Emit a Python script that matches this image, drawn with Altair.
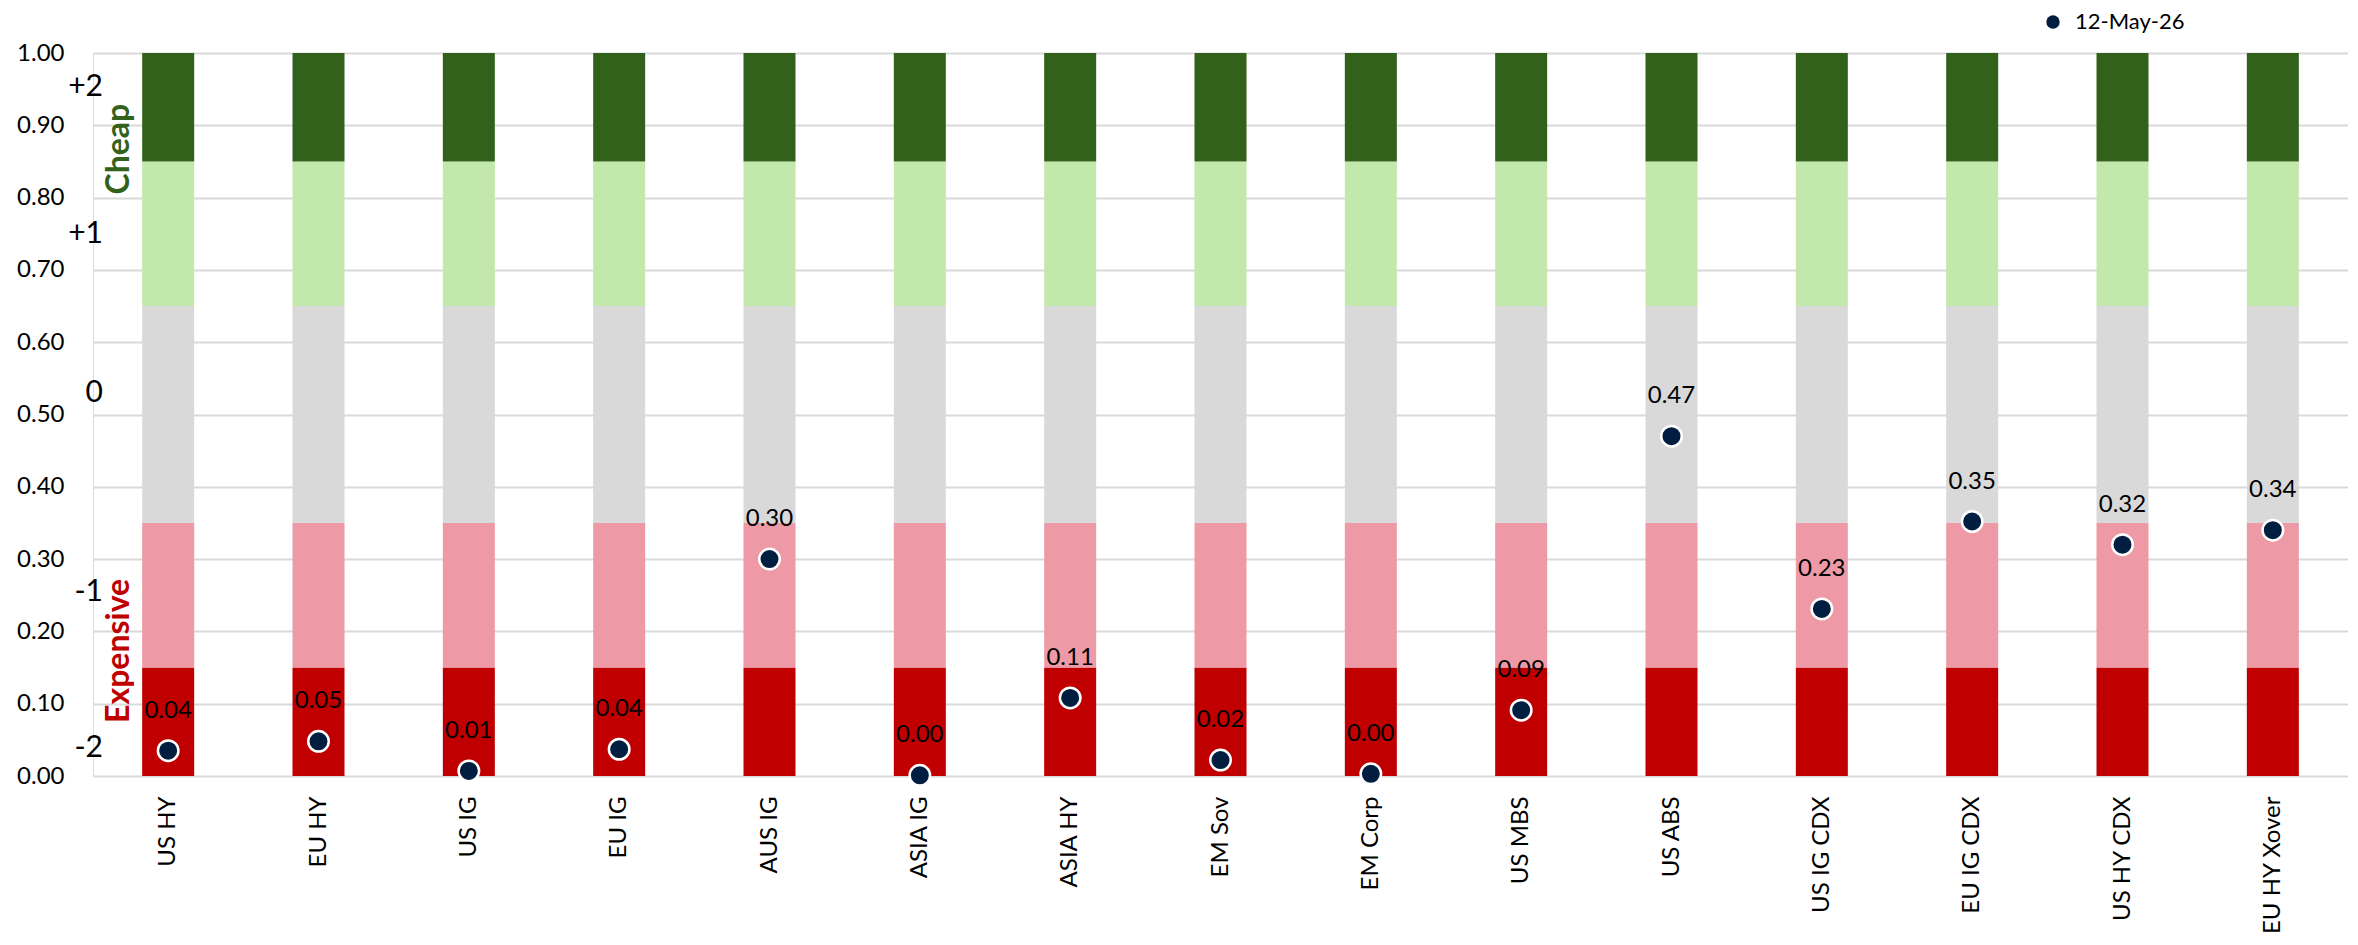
import altair as alt
import pandas as pd

categories = ["US HY", "EU HY", "US IG", "EU IG", "AUS IG", "ASIA IG", "ASIA HY", "EM Sov",
              "EM Corp", "US MBS", "US ABS", "US IG CDX", "EU IG CDX", "US HY CDX", "EU HY Xover"]
values = [0.035, 0.048, 0.007, 0.037, 0.30, 0.001, 0.108, 0.022, 0.003, 0.091, 0.47, 0.231, 0.352, 0.320, 0.340]
value_labels = ["0.04", "0.05", "0.01", "0.04", "0.30", "0.00", "0.11", "0.02", "0.00", "0.09",
                "0.47", "0.23", "0.35", "0.32", "0.34"]
series_name = "12-May-26"

zone_lo = [0.00, 0.15, 0.35, 0.65, 0.85]
zone_hi = [0.15, 0.35, 0.65, 0.85, 1.00]
zone_colors = ["#C00000", "#ED9AA6", "#D9D9D9", "#C2E9AB", "#32611B"]

zone_text = ["+2", "+1", "0", "-1", "-2"]
zone_text_pos = [0.953, 0.750, 0.530, 0.255, 0.039]

side_text = ["Cheap", "Expensive"]
side_text_pos = [0.867, 0.173]
side_text_colors = ["#32611B", "#C00000"]

y_ticks = [round(i * 0.1, 1) for i in range(11)]

FONT = "Lato"

bars_df = pd.DataFrame([
    {"cat": c, "lo": lo, "hi": hi, "col": col}
    for c in categories for lo, hi, col in zip(zone_lo, zone_hi, zone_colors)
])
pts_df = pd.DataFrame({"cat": categories, "v": values, "lab": value_labels,
                       "series": [series_name] * len(categories)})
zt_df = pd.DataFrame({"t": zone_text, "v": zone_text_pos})
st_df = pd.DataFrame({"t": side_text, "v": side_text_pos, "c": side_text_colors})

xenc = alt.X("cat:N", sort=categories,
             scale=alt.Scale(paddingInner=0, paddingOuter=0),
             axis=alt.Axis(title=None, labelAngle=270, labelAlign="right", labelBaseline="middle",
                           labelFontSize=24, labelFont=FONT, labelColor="#000000", labelPadding=20,
                           domain=False, ticks=False, grid=False))
yscale = alt.Scale(domain=[0, 1], nice=False, zero=True)

bars = alt.Chart(bars_df).mark_bar(size=52).encode(
    x=xenc,
    y=alt.Y("lo:Q", scale=yscale,
            axis=alt.Axis(title=None, values=y_ticks, format=".2f", labelFontSize=24, labelFont=FONT,
                          labelColor="#000000", labelPadding=29, domain=False, ticks=False,
                          grid=True, gridColor="#D9D9D9", gridWidth=2)),
    y2="hi:Q",
    color=alt.Color("col:N", scale=None, legend=None),
)

points = alt.Chart(pts_df).mark_point(filled=True, shape="circle", size=420, opacity=1,
                                      stroke="white", strokeWidth=2.5).encode(
    x=alt.X("cat:N", sort=categories),
    y=alt.Y("v:Q", scale=yscale),
    fill=alt.Fill("series:N", scale=alt.Scale(range=["#011E41"]),
                  legend=alt.Legend(title=None, orient="none", legendX=1949, legendY=-42,
                                    symbolType="circle", symbolSize=180, symbolStrokeWidth=0,
                                    labelFontSize=22, labelFont=FONT, labelColor="#000000",
                                    labelOffset=11)),
)

labels = alt.Chart(pts_df).mark_text(dy=-40, baseline="middle", align="center", fontSize=24,
                                     font=FONT, color="#000000").encode(
    x=alt.X("cat:N", sort=categories),
    y=alt.Y("v:Q", scale=yscale),
    text="lab:N",
)

zone_labels = alt.Chart(zt_df).mark_text(align="right", baseline="middle", fontSize=30,
                                         font=FONT, color="#000000").encode(
    x=alt.value(10),
    y=alt.Y("v:Q", scale=yscale),
    text="t:N",
)

side_labels = alt.Chart(st_df).mark_text(align="center", baseline="middle", angle=270, fontSize=32,
                                         fontWeight="bold", font=FONT).encode(
    x=alt.value(26),
    y=alt.Y("v:Q", scale=yscale),
    text="t:N",
    color=alt.Color("c:N", scale=None, legend=None),
)

chart = alt.layer(bars, points, labels, zone_labels, side_labels).resolve_scale(
    color="independent"
).properties(
    width=2255, height=723,
    autosize=alt.AutoSizeParams(type="none"),
    padding={"left": 85, "top": 45, "right": 0, "bottom": 160},
).configure_view(stroke=None).configure(background="white")

chart.save("out.html", embed_options={"renderer": "svg", "actions": False})
